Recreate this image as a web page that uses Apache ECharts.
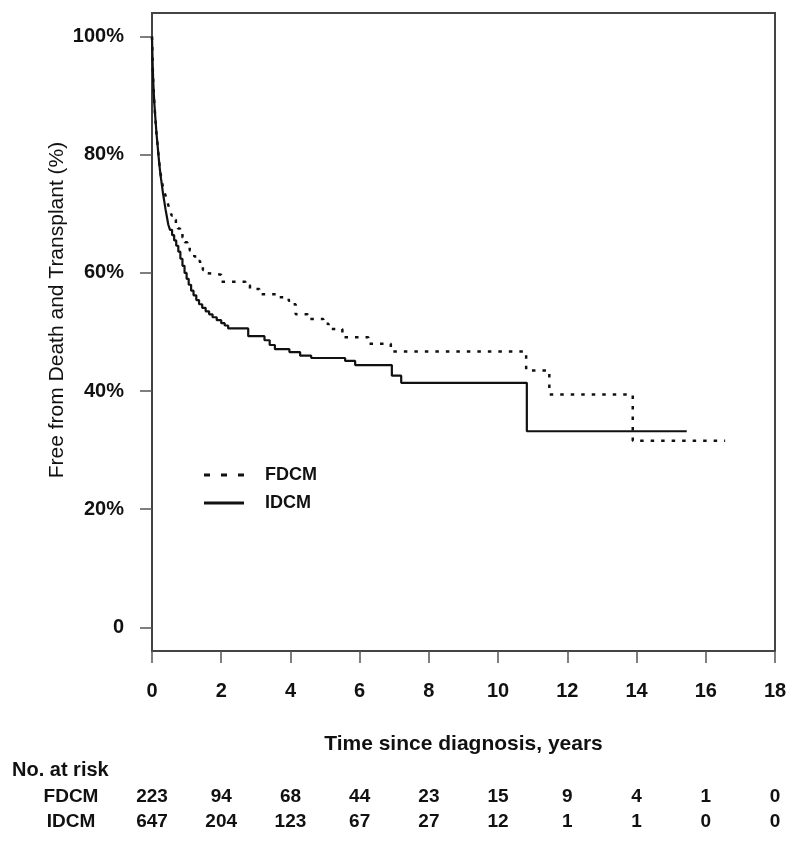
<!DOCTYPE html>
<html>
<head>
<meta charset="utf-8">
<script src="https://cdn.jsdelivr.net/npm/echarts@6/dist/echarts.min.js"></script>
<style>
html,body{margin:0;padding:0;background:#fff;}
#chart{width:800px;height:843px;}
</style>
</head>
<body>
<div id="chart"></div>
<script>
// ---- data ----
var fdcmTime = [0, 0.01, 0.02, 0.035, 0.05, 0.07, 0.09, 0.11, 0.13, 0.155, 0.18, 0.205, 0.23, 0.26, 0.29, 0.33, 0.38, 0.42, 0.47, 0.52, 0.57, 0.63, 0.69, 0.75, 0.81, 0.88, 0.95, 1.02, 1.09, 1.15, 1.22, 1.3, 1.39, 1.47, 1.55, 1.6, 2.0, 2.7, 2.83, 3.1, 3.6, 3.95, 4.04, 4.15, 4.5, 4.95, 5.1, 5.5, 6.25, 6.9, 10.81, 11.48, 13.89, 16.56];
var fdcmSurv = [100, 97.5, 95, 92.5, 90.5, 88.5, 86.8, 85.2, 83.6, 82, 80.4, 78.9, 77.6, 76.3, 75.3, 74.2, 73.3, 72.5, 71.5, 70.5, 69.7, 69, 68.2, 67.5, 66.9, 66, 65.2, 64.4, 63.8, 63.5, 62.8, 62, 61.2, 60.5, 60, 59.7, 58.5, 57.9, 57.3, 56.4, 55.9, 55.3, 54.7, 53, 52.2, 51.4, 50.5, 49.1, 48, 46.7, 43.5, 39.4, 31.6, 31.6];

var idcmTime = [0, 0.01, 0.02, 0.035, 0.05, 0.07, 0.09, 0.11, 0.13, 0.155, 0.18, 0.205, 0.23, 0.26, 0.29, 0.32, 0.355, 0.39, 0.43, 0.47, 0.52, 0.58, 0.64, 0.7, 0.76, 0.82, 0.88, 0.94, 1.0, 1.06, 1.13, 1.2, 1.28, 1.36, 1.45, 1.55, 1.65, 1.75, 1.87, 2.0, 2.1, 2.2, 2.78, 3.25, 3.4, 3.55, 3.97, 4.28, 4.6, 5.58, 5.87, 6.93, 7.2, 10.83, 15.45];
var idcmSurv = [100, 97.5, 95, 92.5, 90.5, 88.5, 86.8, 85.2, 83.6, 82, 80.4, 78.8, 77.4, 76, 74.7, 73.4, 72.1, 70.8, 69.5, 68.2, 67.3, 66.4, 65.5, 64.6, 63.6, 62.4, 61.2, 60, 59, 58, 57, 56.2, 55.4, 54.7, 54.1, 53.5, 53, 52.5, 52, 51.5, 51.1, 50.6, 49.3, 48.6, 47.8, 47.1, 46.6, 46, 45.6, 45.1, 44.4, 42.6, 41.4, 33.2, 33.2];

var xTicks = [0, 2, 4, 6, 8, 10, 12, 14, 16, 18];
var yTicks = [0, 20, 40, 60, 80, 100];
var fdcmRisk = [223, 94, 68, 44, 23, 15, 9, 4, 1, 0];
var idcmRisk = [647, 204, 123, 67, 27, 12, 1, 1, 0, 0];

// ---- build ----
function pairs(t, s) { return t.map(function (v, i) { return [v, s[i]]; }); }
var FONT = "'Liberation Sans', Arial, Helvetica, sans-serif";
var INK = '#111';

function riskAxis(arr, offset) {
  return {
    type: 'value', gridIndex: 0, position: 'bottom', offset: offset,
    min: 0, max: 18, interval: 2,
    axisLine: { show: false, onZero: false }, axisTick: { show: false }, splitLine: { show: false },
    axisLabel: {
      margin: 0, color: INK, fontFamily: FONT, fontWeight: 'bold', fontSize: 19, lineHeight: 20,
      showMinLabel: true, showMaxLabel: true,
      formatter: function (v) { return String(arr[Math.round(v / 2)]); }
    }
  };
}

var chart = echarts.init(document.getElementById('chart'), null, { renderer: 'canvas' });
chart.setOption({
  animation: false,
  backgroundColor: '#fff',
  grid: { left: 152, right: 25, top: 13, bottom: 192, show: true, borderColor: '#444', borderWidth: 2, backgroundColor: 'transparent' },
  xAxis: [
    {
      type: 'value', min: 0, max: 18, interval: 2,
      axisLine: { show: false, onZero: false },
      axisTick: { show: true, length: 12, lineStyle: { color: '#555', width: 1.5 } },
      splitLine: { show: false },
      axisLabel: { margin: 30, color: INK, fontFamily: FONT, fontWeight: 'bold', fontSize: 20, lineHeight: 20, showMinLabel: true, showMaxLabel: true },
      name: 'Time since diagnosis, years', nameLocation: 'middle', nameGap: 83, nameMoveOverlap: false,
      nameTextStyle: { color: INK, fontFamily: FONT, fontWeight: 'bold', fontSize: 21 }
    },
    riskAxis(fdcmRisk, 136),
    riskAxis(idcmRisk, 161)
  ],
  yAxis: {
    type: 'value', min: -4, max: 104,
    axisLine: { show: false, onZero: false },
    axisTick: { show: true, length: 12, customValues: yTicks, lineStyle: { color: '#555', width: 1.5 } },
    splitLine: { show: false },
    axisLabel: {
      customValues: yTicks, margin: 28, color: INK, fontFamily: FONT, fontWeight: 'bold', fontSize: 20,
      formatter: function (v) { return v === 0 ? '0' : v + '%'; }
    },
    name: 'Free from Death and Transplant (%)', nameLocation: 'middle', nameGap: 84, nameRotate: 90, nameMoveOverlap: false,
    nameTextStyle: { color: INK, fontFamily: FONT, fontSize: 21, padding: [0, 0, 0, 44] }
  },
  legend: {
    orient: 'vertical', left: 204, top: 465, padding: 0,
    itemWidth: 40, itemHeight: 3, itemGap: 8,
    textStyle: { color: INK, fontFamily: FONT, fontWeight: 'bold', fontSize: 18, lineHeight: 20, padding: [0, 0, 0, 16] },
    data: [
      { name: 'FDCM', icon: 'path://M0,0h6v3h-6zM17,0h6v3h-6zM34,0h6v3h-6z', itemStyle: { color: INK } },
      { name: 'IDCM', icon: 'rect', itemStyle: { color: INK } }
    ]
  },
  graphic: [
    { type: 'text', left: 12, top: 760, style: { text: 'No. at risk', fill: INK, font: 'bold 20px ' + FONT } },
    { type: 'text', x: 71, y: 797, style: { text: 'FDCM', fill: INK, font: 'bold 19px ' + FONT, align: 'center', verticalAlign: 'middle', textAlign: 'center', textVerticalAlign: 'middle' } },
    { type: 'text', x: 71, y: 822, style: { text: 'IDCM', fill: INK, font: 'bold 19px ' + FONT, align: 'center', verticalAlign: 'middle', textAlign: 'center', textVerticalAlign: 'middle' } }
  ],
  series: [
    {
      name: 'FDCM', type: 'line', step: 'end', symbol: 'none', xAxisIndex: 0,
      data: pairs(fdcmTime, fdcmSurv),
      lineStyle: { color: INK, width: 2.5, type: [3.5, 7] }, itemStyle: { color: INK }
    },
    {
      name: 'IDCM', type: 'line', step: 'end', symbol: 'none', xAxisIndex: 0,
      data: pairs(idcmTime, idcmSurv),
      lineStyle: { color: INK, width: 2.2, type: 'solid' }, itemStyle: { color: INK }
    }
  ]
});
</script>
</body>
</html>
